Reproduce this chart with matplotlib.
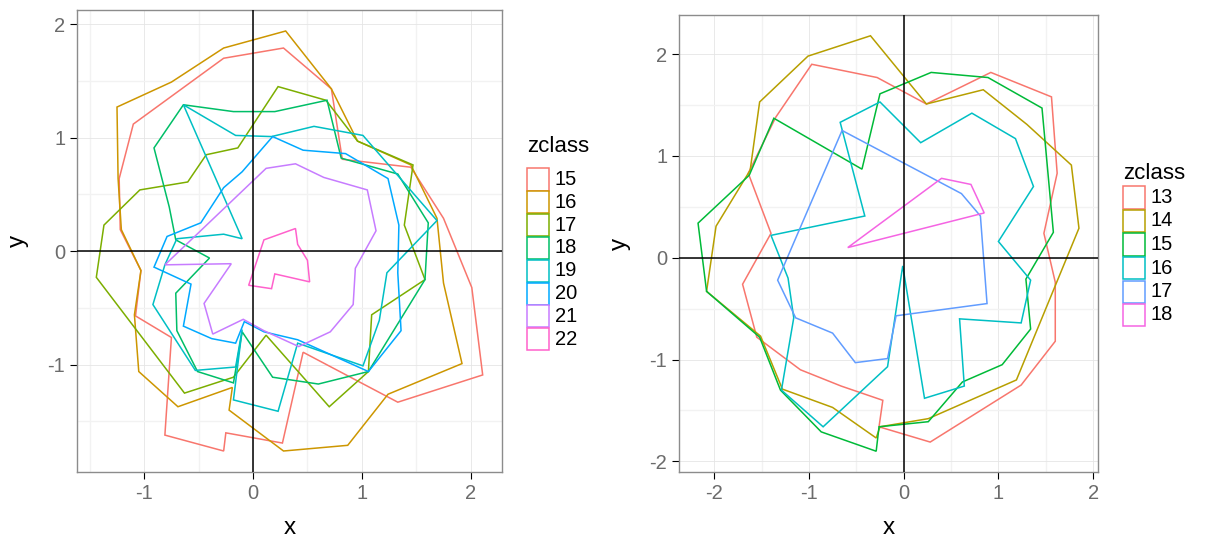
import matplotlib
matplotlib.use("Agg")
import matplotlib.pyplot as plt
from matplotlib.patches import Rectangle

plt.rcParams['font.family'] = ['Liberation Sans', 'DejaVu Sans']
plt.rcParams['axes.unicode_minus'] = False

# ---- left panel: zclass 15..22 ----
a_classes = ["15", "16", "17", "18", "19", "20", "21", "22"]
a_colors = ["#F8766D", "#CD9600", "#7CAE00", "#00BE67",
            "#00BFC4", "#00A9FF", "#C77CFF", "#FF61CC"]

a15_x = [-1.10, -0.27, 0.28, 0.72, 0.82, 1.45, 1.75, 2.01, 2.11, 1.33,
         0.46, 0.27, -0.25, -0.27, -0.81, -0.75, -1.08, -1.03, -1.22, -1.23]
a15_y = [1.12, 1.70, 1.79, 1.43, 0.81, 0.74, 0.29, -0.32, -1.09, -1.33,
         -0.89, -1.69, -1.60, -1.76, -1.62, -0.76, -0.57, -0.17, 0.19, 0.64]

a16_x = [-1.25, -0.75, -0.27, 0.30, 0.72, 0.96, 1.45, 1.69, 1.75, 1.92, 1.24,
         0.87, 0.28, -0.22, -0.19, -0.69, -1.05, -1.09, -1.03, -1.12, -1.21, -1.24]
a16_y = [1.27, 1.49, 1.79, 1.94, 1.43, 0.97, 0.76, 0.29, -0.28, -0.99, -1.26,
         -1.71, -1.76, -1.40, -1.20, -1.37, -1.06, -0.56, -0.17, 0.01, 0.19, 0.64]

a17_x = [0.23, 0.67, 0.96, 1.47, 1.39, 1.58, 1.09, 1.06, 0.70,
         0.12, -0.18, -0.63, -1.44, -1.37, -1.04, -0.60, -0.43, -0.14]
a17_y = [1.45, 1.33, 0.97, 0.76, 0.23, -0.25, -0.56, -1.06, -1.37,
         -0.74, -1.11, -1.25, -0.23, 0.23, 0.54, 0.61, 0.85, 0.91]

a18_x = [-0.64, -0.18, 0.20, 0.68, 0.81, 1.33, 1.61, 1.58, 1.06, 0.60,
         0.18, -0.10, -0.18, -0.51, -0.70, -0.71, -0.40, -0.71, -0.77, -0.91]
a18_y = [1.29, 1.23, 1.23, 1.33, 0.82, 0.68, 0.25, -0.25, -1.06, -1.17,
         -1.11, -0.71, -1.16, -1.06, -0.70, -0.37, -0.06, 0.10, 0.39, 0.91]

a19_x = [-0.64, -0.16, 0.17, 0.56, 1.01, 1.69, 1.23, 1.16, 1.01, 0.41,
         0.23, -0.18, -0.10, -0.16, -0.53, -0.92, -0.81, -0.70, -0.27, -0.10]
a19_y = [1.29, 1.02, 1.01, 1.10, 1.02, 0.27, -0.19, -0.61, -1.01, -0.81,
         -1.41, -1.31, -0.69, -1.02, -1.05, -0.47, -0.12, 0.11, 0.15, 0.11]

a20_x = [-0.79, -0.48, -0.27, -0.10, 0.18, 0.46, 0.85, 1.24, 1.34, 1.33,
         1.36, 1.06, 0.41, 0.10, -0.08, -0.16, -0.38, -0.64, -0.57, -0.91]
a20_y = [0.13, 0.25, 0.56, 0.70, 1.01, 0.89, 0.86, 0.64, 0.23, -0.19,
         -0.70, -1.06, -0.78, -0.71, -0.62, -0.81, -0.77, -0.66, -0.29, -0.14]

a21_x = [-0.81, -0.20, -0.45, -0.37, -0.09, 0.10, 0.42, 0.71,
         0.92, 0.94, 1.13, 1.05, 0.65, 0.39, 0.12]
a21_y = [-0.12, -0.11, -0.46, -0.73, -0.60, -0.70, -0.84, -0.71,
         -0.47, -0.15, 0.18, 0.54, 0.65, 0.77, 0.73]

a22_x = [0.10, 0.39, 0.41, 0.50, 0.52, 0.20, 0.17, -0.04]
a22_y = [0.10, 0.20, 0.06, -0.08, -0.27, -0.20, -0.33, -0.30]

# ---- right panel: zclass 13..18 ----
b_classes = ["13", "14", "15", "16", "17", "18"]
b_colors = ["#F8766D", "#B79F00", "#00BA38", "#00BFC4", "#619CFF", "#F564E3"]

b13_x = [-0.97, -0.28, 0.24, 0.92, 1.56, 1.62, 1.48, 1.60, 1.60, 1.24,
         0.28, -0.26, -0.22, -0.66, -1.09, -1.55, -1.70, -1.40, -1.64, -1.35]
b13_y = [1.90, 1.77, 1.51, 1.82, 1.58, 0.83, 0.24, -0.24, -0.82, -1.25,
         -1.81, -1.66, -1.40, -1.26, -1.10, -0.78, -0.26, 0.24, 0.83, 1.38]

b14_x = [-0.35, 0.24, 0.84, 1.30, 1.77, 1.85, 1.19, 0.26, -0.25,
         -0.29, -0.75, -1.28, -1.51, -2.08, -1.98, -1.62, -1.52, -1.01]
b14_y = [2.18, 1.51, 1.65, 1.31, 0.91, 0.29, -1.20, -1.58, -1.66,
         -1.77, -1.47, -1.29, -0.77, -0.33, 0.31, 0.86, 1.53, 1.98]

b15_x = [-0.25, 0.29, 0.89, 1.46, 1.58, 1.29, 1.34, 1.04, 0.62, 0.26,
         -0.26, -0.29, -0.87, -1.30, -1.52, -2.08, -2.17, -1.63, -1.37, -0.44]
b15_y = [1.61, 1.82, 1.77, 1.47, 0.25, -0.21, -0.70, -1.05, -1.22, -1.61,
         -1.66, -1.90, -1.71, -1.30, -0.78, -0.33, 0.34, 0.81, 1.37, 0.87]

b16_x = [-0.85, -0.17, -0.01, 0.22, 0.64, 0.59, 1.24, 1.34, 1.00, 1.37,
         1.18, 0.72, 0.18, -0.25, -0.67, -0.41, -1.40, -1.22, -1.16, -1.29]
b16_y = [-1.66, -1.07, -0.08, -1.38, -1.26, -0.60, -0.64, -0.22, 0.16, 0.70,
         1.17, 1.42, 1.13, 1.53, 1.33, 0.41, 0.22, -0.20, -0.59, -1.30]

b17_x = [-0.65, 0.61, 0.81, 0.88, -0.08, -0.17, -0.51, -0.75, -1.14, -1.33]
b17_y = [1.25, 0.63, 0.41, -0.45, -0.57, -0.99, -1.03, -0.74, -0.59, -0.22]

b18_x = [-0.59, 0.40, 0.71, 0.85]
b18_y = [0.10, 0.78, 0.72, 0.44]

a_x = [a15_x, a16_x, a17_x, a18_x, a19_x, a20_x, a21_x, a22_x]
a_y = [a15_y, a16_y, a17_y, a18_y, a19_y, a20_y, a21_y, a22_y]
b_x = [b13_x, b14_x, b15_x, b16_x, b17_x, b18_x]
b_y = [b13_y, b14_y, b15_y, b16_y, b17_y, b18_y]

W, H = 1207, 539


def draw_panel(ax, xs, ys, colors, major, minor):
    for x, y, c in zip(xs, ys, colors):
        ax.fill(x, y, fill=False, edgecolor=c, lw=1.1, zorder=3)
    ax.axhline(0, color="black", lw=1.1, zorder=4)
    ax.axvline(0, color="black", lw=1.1, zorder=4)
    ax.margins(0.05)

    ax.set_xticks(major)
    ax.set_yticks(major)
    ax.set_xticks(minor, minor=True)
    ax.set_yticks(minor, minor=True)
    ax.set_xticklabels([str(v) for v in major])
    ax.set_yticklabels([str(v) for v in major])
    ax.grid(which="major", color="#E5E5E5", lw=0.6, zorder=0)
    ax.grid(which="minor", color="#F2F2F2", lw=1.0, zorder=0)
    ax.set_axisbelow(True)
    ax.tick_params(which="major", direction="out", length=5, width=0.8,
                   color="black", labelcolor="#6B6B6B", labelsize=14.5, pad=3.5)
    ax.tick_params(which="minor", length=0)
    for s in ax.spines.values():
        s.set_color("#8C8C8C")
        s.set_linewidth(1.0)
    ax.set_xlabel("x", fontsize=17.5, labelpad=10)
    ax.set_ylabel("y", fontsize=17.5, labelpad=13)


def draw_legend(fig, classes, colors, x_px, title_px, top_px, pitch_px):
    fig.text(x_px / W, 1 - title_px / H, "zclass", fontsize=16,
             ha="left", va="baseline")
    key = 22
    for i, (lab, c) in enumerate(zip(classes, colors)):
        top = top_px + i * pitch_px
        fig.add_artist(Rectangle((x_px / W, 1 - (top + key) / H), key / W, key / H,
                                 transform=fig.transFigure, facecolor="white",
                                 edgecolor=c, lw=1.1))
        fig.text((x_px + key + 6) / W, 1 - (top + key / 2) / H, lab,
                 fontsize=14.5, ha="left", va="center")


fig = plt.figure(figsize=(W / 100, H / 100), dpi=100)
ax1 = fig.add_axes([77 / W, 1 - 472 / H, 425 / W, 462 / H])
ax2 = fig.add_axes([679 / W, 1 - 472 / H, 419 / W, 457 / H])

draw_panel(ax1, a_x, a_y, a_colors, [-1, 0, 1, 2], [-1.5, -0.5, 0.5, 1.5])
draw_panel(ax2, b_x, b_y, b_colors, [-2, -1, 0, 1, 2], [-1.5, -0.5, 0.5, 1.5])

draw_legend(fig, a_classes, a_colors, 527, 152, 168.5, 22.8)
draw_legend(fig, b_classes, b_colors, 1123, 179, 186.5, 23.5)

fig.savefig("out.png", dpi=100)
